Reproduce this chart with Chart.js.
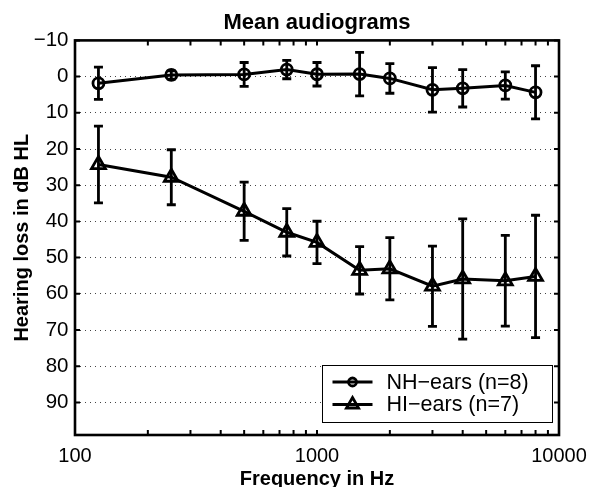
<!DOCTYPE html>
<html>
<head>
<meta charset="utf-8">
<script src="https://cdn.jsdelivr.net/npm/chart.js@4/dist/chart.umd.min.js"></script>
<style>
html,body{margin:0;padding:0;background:#fff;}
#wrap{width:592px;height:487px;position:relative;}
</style>
</head>
<body>
<div id="wrap"><canvas id="c" width="592" height="487"></canvas></div>
<script>
// ---- data ----
const chartTitle = 'Mean audiograms';
const xTitle = 'Frequency in Hz';
const yTitle = 'Hearing loss in dB HL';
const frequencies = [125, 250, 500, 750, 1000, 1500, 2000, 3000, 4000, 6000, 8000];
const nhLabel = 'NH\u2212ears (n=8)';
const nhMean = [1.85, -0.45, -0.6, -1.95, -0.65, -0.7, 0.5, 3.65, 3.25, 2.45, 4.35];
const nhSd   = [4.45, 1.15, 3.3, 2.55, 3.25, 6.0, 4.1, 6.15, 5.15, 3.75, 7.35];
const hiLabel = 'HI\u2212ears (n=7)';
const hiMean = [24.3, 27.8, 37.2, 43.0, 45.8, 53.5, 53.1, 57.9, 55.9, 56.4, 55.2];
const hiSd   = [10.6, 7.6, 8.05, 6.55, 5.85, 6.55, 8.6, 11.1, 16.6, 12.55, 16.9];
const xTickValues = [100, 1000, 10000];
const xMinorTicks = [200, 300, 400, 500, 600, 700, 800, 900, 2000, 3000, 4000, 5000, 6000, 7000, 8000, 9000];
const yTickValues = [-10, 0, 10, 20, 30, 40, 50, 60, 70, 80, 90];

const FONT = '"Liberation Sans", Arial, Helvetica, sans-serif';
const errorSets = [nhSd, hiSd];

function toPoints(xs, ys) { return xs.map((x, i) => ({x: x, y: ys[i]})); }

const errorBarPlugin = {
  id: 'errorBars',
  beforeDatasetsDraw(chart) {
    const {ctx} = chart;
    const xs = chart.scales.x, ys = chart.scales.y;
    ctx.save();
    ctx.strokeStyle = '#000';
    ctx.lineWidth = 2.8;
    ctx.lineCap = 'butt';
    chart.data.datasets.forEach((ds, di) => {
      const errs = errorSets[di];
      ds.data.forEach((p, i) => {
        const px = xs.getPixelForValue(p.x);
        const t = ys.getPixelForValue(p.y - errs[i]);
        const b = ys.getPixelForValue(p.y + errs[i]);
        ctx.beginPath();
        ctx.moveTo(px, t); ctx.lineTo(px, b);
        ctx.moveTo(px - 4.5, t); ctx.lineTo(px + 4.5, t);
        ctx.moveTo(px - 4.5, b); ctx.lineTo(px + 4.5, b);
        ctx.stroke();
      });
    });
    ctx.restore();
  }
};

function drawMarker(ctx, style, x, y, r) {
  ctx.beginPath();
  if (style === 'circle') {
    ctx.arc(x, y, r, 0, Math.PI * 2);
  } else {
    let rad = 0;
    ctx.moveTo(x + Math.sin(rad) * r, y - Math.cos(rad) * r);
    rad += 2 * Math.PI / 3;
    ctx.lineTo(x + Math.sin(rad) * r, y - Math.cos(rad) * r);
    rad += 2 * Math.PI / 3;
    ctx.lineTo(x + Math.sin(rad) * r, y - Math.cos(rad) * r);
    ctx.closePath();
  }
  ctx.stroke();
}

const framePlugin = {
  id: 'frame',
  afterDraw(chart) {
    const {ctx, chartArea: a} = chart;
    const xs = chart.scales.x, ys = chart.scales.y;
    ctx.save();
    ctx.strokeStyle = '#000';
    // inward ticks
    ctx.lineWidth = 2;
    const tl = 5;
    ctx.beginPath();
    yTickValues.forEach(v => {
      const py = ys.getPixelForValue(v);
      ctx.moveTo(a.left, py); ctx.lineTo(a.left + tl, py);
      ctx.moveTo(a.right, py); ctx.lineTo(a.right - tl, py);
    });
    xTickValues.concat(xMinorTicks).forEach(v => {
      const px = xs.getPixelForValue(v);
      ctx.moveTo(px, a.bottom); ctx.lineTo(px, a.bottom - tl);
      ctx.moveTo(px, a.top); ctx.lineTo(px, a.top + tl);
    });
    ctx.stroke();
    // box
    ctx.lineWidth = 2.6;
    ctx.strokeRect(a.left, a.top, a.right - a.left, a.bottom - a.top);

    // legend
    const lw = 230, lh = 57;
    const lx = a.right - 6.5 - lw, ly = a.bottom - 12.5 - lh;
    ctx.fillStyle = '#fff';
    ctx.fillRect(lx, ly, lw, lh);
    ctx.lineWidth = 1;
    ctx.strokeRect(lx, ly, lw, lh);
    const rows = [ly + 16.5, ly + 39];
    chart.data.datasets.forEach((ds, i) => {
      const cy = rows[i];
      ctx.lineWidth = 3;
      ctx.beginPath();
      ctx.moveTo(lx + 10, cy); ctx.lineTo(lx + 50, cy);
      ctx.stroke();
      ctx.lineWidth = 2.8;
      drawMarker(ctx, ds.pointStyle, lx + 30, cy, ds.pointStyle === 'circle' ? 4 : 7);
      ctx.fillStyle = '#000';
      ctx.font = '21.5px ' + FONT;
      ctx.textAlign = 'left';
      ctx.textBaseline = 'middle';
      ctx.fillText(ds.label, lx + 64, cy + 1);
    });
    ctx.restore();
  }
};

new Chart(document.getElementById('c'), {
  type: 'line',
  data: {
    datasets: [
      {
        label: nhLabel,
        data: toPoints(frequencies, nhMean),
        borderColor: '#000', borderWidth: 3,
        pointStyle: 'circle', pointRadius: 5.5,
        pointBorderWidth: 2.8, pointBorderColor: '#000',
        pointBackgroundColor: 'rgba(0,0,0,0)',
        fill: false, tension: 0
      },
      {
        label: hiLabel,
        data: toPoints(frequencies, hiMean),
        borderColor: '#000', borderWidth: 3,
        pointStyle: 'triangle', pointRadius: 8,
        pointBorderWidth: 2.8, pointBorderColor: '#000',
        pointBackgroundColor: 'rgba(0,0,0,0)',
        fill: false, tension: 0
      }
    ]
  },
  options: {
    responsive: false,
    animation: false,
    devicePixelRatio: 1,
    layout: {padding: {left: 0, right: 33, top: 0, bottom: 0}},
    plugins: {
      legend: {display: false},
      tooltip: {enabled: false},
      title: {
        display: true, text: chartTitle, color: '#000', fullSize: false,
        font: {family: FONT, size: 22, weight: 'bold'},
        padding: {top: 10, bottom: 4}
      }
    },
    scales: {
      x: {
        type: 'logarithmic', min: 100, max: 10000,
        afterBuildTicks: s => { s.ticks = xTickValues.map(v => ({value: v})); },
        afterFit: s => { s.height = 52; s.paddingRight = 0; s.paddingLeft = 0; },
        ticks: {
          color: '#000', font: {family: FONT, size: 20}, padding: 9,
          maxRotation: 0, autoSkip: false,
          callback: v => String(v)
        },
        grid: {display: false, drawTicks: false},
        border: {display: false},
        title: {
          display: true, text: xTitle, color: '#000',
          font: {family: FONT, size: 20, weight: 'bold', lineHeight: 0.8},
          padding: 0
        }
      },
      y: {
        type: 'linear', reverse: true, min: -10, max: 99,
        afterBuildTicks: s => { s.ticks = yTickValues.map(v => ({value: v})); },
        afterFit: s => { s.width = 75; },
        ticks: {
          color: '#000', font: {family: FONT, size: 20.5}, padding: 6.5,
          callback: v => String(v).replace('-', '\u2212')
        },
        grid: {
          drawTicks: false, lineWidth: 1,
          color: c => (c.tick && c.tick.value === -10) ? 'rgba(0,0,0,0)' : '#444'
        },
        border: {display: false, dash: [1, 4]},
        title: {
          display: true, text: yTitle, color: '#000',
          font: {family: FONT, size: 20, weight: 'bold', lineHeight: 0.8},
          padding: {top: 14}
        }
      }
    }
  },
  plugins: [errorBarPlugin, framePlugin]
});
</script>
</body>
</html>
